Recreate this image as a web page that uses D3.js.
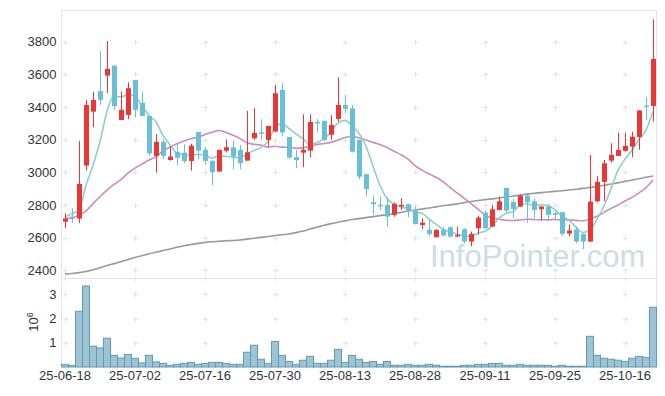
<!DOCTYPE html>
<html>
<head>
<meta charset="utf-8">
<script src="https://cdn.jsdelivr.net/npm/d3@7"></script>
<style>
  body { margin: 0; background: #fff; }
  svg { display: block; font-family: "Liberation Sans", Arial, sans-serif; }
</style>
</head>
<body>
<svg id="chart"></svg>
<script>
// trading days (category axis)
const dates = [
  "25-06-18","25-06-19","25-06-20","25-06-23","25-06-24","25-06-25","25-06-26","25-06-27","25-06-30",
  "25-07-01","25-07-02","25-07-03","25-07-04","25-07-07","25-07-08","25-07-09","25-07-10","25-07-11",
  "25-07-14","25-07-15","25-07-16","25-07-17","25-07-18","25-07-21","25-07-22","25-07-23","25-07-24",
  "25-07-25","25-07-28","25-07-29","25-07-30","25-07-31","25-08-01","25-08-04","25-08-05","25-08-06",
  "25-08-07","25-08-08","25-08-11","25-08-12","25-08-13","25-08-14","25-08-18","25-08-19","25-08-20",
  "25-08-21","25-08-22","25-08-25","25-08-26","25-08-27","25-08-28","25-08-29","25-09-01","25-09-02",
  "25-09-03","25-09-04","25-09-05","25-09-08","25-09-09","25-09-10","25-09-11","25-09-12","25-09-15",
  "25-09-16","25-09-17","25-09-18","25-09-19","25-09-22","25-09-23","25-09-24","25-09-25","25-09-26",
  "25-09-29","25-09-30","25-10-01","25-10-02","25-10-10","25-10-13","25-10-14","25-10-15","25-10-16",
  "25-10-17","25-10-20","25-10-21","25-10-22"
];

const open = [2697,2728,2716,3041,3371,3498,3592,3653,3320,3351,3565,3426,3345,3100,3186,3075,3124,3120,3069,3247,
  3137,3069,3004,3132,3153,3137,3071,3208,3245,3198,3249,3504,3216,3092,3120,3132,3308,3314,3229,3327,
  3412,3392,3198,2988,2816,2800,2800,2739,2795,2804,2765,2677,2647,2602,2647,2663,2606,2651,2575,2657,
  2753,2667,2769,2904,2818,2790,2857,2822,2773,2790,2749,2755,2624,2649,2622,2575,2822,2941,3071,3100,
  3131,3157,3216,3408,3406];
const high = [2749,2780,3192,3441,3492,3743,3804,3655,3494,3551,3565,3494,3345,3233,3202,3160,3171,3171,3175,3247,
  3157,3075,3137,3202,3192,3167,3376,3392,3325,3284,3535,3545,3216,3137,3355,3355,3325,3318,3349,3582,
  3474,3412,3200,2990,2857,2851,2845,2814,2841,2806,2790,2718,2712,2650,2663,2667,2667,2657,2636,2732,
  2769,2800,2851,2906,2835,2865,2871,2838,2792,2805,2759,2757,2680,2667,2626,3106,2977,3075,3178,3243,
  3243,3249,3382,3460,3937];
const low = [2657,2691,2688,3010,3276,3412,3484,3382,3320,3325,3337,3345,3100,2998,3080,3071,3043,3055,3010,3080,
  3045,2922,3004,3120,3018,3018,3071,3198,3198,3157,3249,3222,3080,3025,3031,3092,3243,3190,3198,3310,
  3361,3120,2957,2851,2739,2765,2667,2728,2769,2724,2680,2651,2606,2600,2606,2600,2604,2565,2545,2616,
  2651,2665,2765,2753,2720,2788,2691,2718,2705,2700,2712,2610,2608,2565,2528,2575,2818,2822,3059,3098,
  3126,3092,3137,3320,3310];
const close = [2716,2718,2928,3412,3443,3443,3633,3406,3382,3515,3382,3345,3116,3186,3100,3096,3088,3069,3163,3132,
  3069,3000,3137,3153,3096,3055,3122,3241,3241,3284,3484,3243,3090,3075,3137,3308,3300,3198,3290,3412,
  3388,3126,2973,2896,2804,2796,2728,2806,2800,2765,2683,2691,2622,2647,2612,2606,2616,2575,2622,2722,
  2657,2773,2822,2765,2775,2857,2816,2769,2790,2739,2739,2622,2643,2575,2575,2820,2941,3055,3106,3137,
  3161,3218,3378,3402,3694];

// volume in millions of shares
const volume = [0.11,0.07,2.30,3.35,0.86,0.79,1.19,0.48,0.37,0.52,0.36,0.17,0.48,0.21,0.15,0.07,0.11,0.15,0.19,0.11,
  0.15,0.19,0.19,0.15,0.11,0.11,0.61,0.90,0.32,0.15,1.06,0.48,0.23,0.11,0.28,0.44,0.15,0.15,0.28,0.73,
  0.19,0.48,0.32,0.19,0.23,0.11,0.23,0.07,0.07,0.11,0.07,0.07,0.11,0.07,0.03,0.03,0.03,0.07,0.07,0.11,
  0.11,0.15,0.15,0.07,0.07,0.11,0.07,0.07,0.07,0.07,0.03,0.07,0.03,0.03,0.03,1.27,0.48,0.36,0.32,0.28,
  0.23,0.36,0.44,0.40,2.47];

// moving averages
const ma5 = [2728,2745,2768,2920,3043,3189,3372,3467,3461,3476,3464,3406,3348,3309,3226,3169,3117,3108,3103,3110,
  3104,3087,3100,3098,3091,3088,3113,3133,3151,3189,3274,3299,3268,3235,3206,3171,3182,3204,3247,3302,
  3318,3283,3238,3159,3037,2919,2839,2806,2787,2779,2756,2749,2712,2682,2651,2636,2621,2611,2606,2628,
  2638,2670,2719,2748,2758,2798,2807,2796,2801,2794,2771,2732,2707,2664,2631,2647,2711,2793,2899,3012,
  3080,3135,3200,3259,3371];
const ma20 = [2718,2718,2740,2762,2808,2850,2890,2925,2955,2995,3025,3050,3075,3096,3130,3155,3175,3192,3205,3214,
  3231,3245,3256,3243,3226,3206,3181,3172,3165,3154,3159,3154,3153,3147,3149,3159,3170,3176,3183,3197,
  3213,3219,3211,3198,3183,3170,3151,3129,3107,3081,3041,3013,2990,2969,2942,2907,2873,2842,2808,2774,
  2737,2720,2712,2706,2704,2707,2712,2710,2709,2708,2711,2707,2708,2705,2703,2714,2730,2754,2778,2799,
  2824,2846,2874,2906,2952];
const ma60 = [2377,2380,2385,2392,2402,2415,2428,2440,2452,2465,2478,2488,2500,2510,2520,2530,2540,2550,2557,2564,
  2570,2574,2577,2580,2582,2585,2590,2596,2601,2606,2612,2617,2622,2630,2640,2652,2663,2675,2685,2694,
  2702,2710,2716,2722,2728,2734,2740,2746,2754,2762,2769,2775,2781,2788,2795,2800,2806,2814,2821,2827,
  2832,2837,2842,2849,2854,2860,2866,2871,2875,2879,2883,2887,2891,2896,2901,2907,2913,2920,2928,2935,
  2944,2952,2960,2969,2977];

const priceTicks = [2400, 2600, 2800, 3000, 3200, 3400, 3600, 3800];
const volTicks = [1, 2, 3];
const dateTicks = dates.filter((d, i) => i % 10 === 0);

const W = 665, H = 396;
const plotLeft = 61.5, plotRight = 656.5, plotTop = 10, split = 278, plotBottom = 367;

const svg = d3.select('#chart').attr('width', W).attr('height', H);

const x = d3.scaleBand().domain(dates).range([plotLeft, plotRight]).padding(0);
const cx = d => x(d) + x.bandwidth() / 2;
const y = d3.scaleLinear().domain([2352, 3994]).range([split, plotTop]);
const yv = d3.scaleLinear().domain([0, 3.68]).range([plotBottom, split]);

// frame lines
const frame = svg.append('g').attr('stroke', '#e3e3e3').attr('fill', 'none');
frame.append('line').attr('x1', plotLeft).attr('x2', plotRight).attr('y1', plotTop + 0.5).attr('y2', plotTop + 0.5);
frame.append('line').attr('x1', plotLeft - 1).attr('x2', plotRight).attr('y1', split + 0.5).attr('y2', split + 0.5);
frame.append('line').attr('x1', plotLeft).attr('x2', plotLeft).attr('y1', plotTop).attr('y2', plotBottom);
frame.append('line').attr('x1', plotRight).attr('x2', plotRight).attr('y1', plotTop).attr('y2', plotBottom);

// little "+" grid marks
const gridYs = priceTicks.map(y).concat(volTicks.map(yv), [split]);
const crosses = [];
dateTicks.forEach(d => gridYs.forEach(gy => crosses.push([Math.round(cx(d)) + 0.5, Math.round(gy) + 0.5])));
svg.append('g').selectAll('path').data(crosses).join('path')
  .attr('d', p => `M${p[0] - 2.5},${p[1]}H${p[0] + 2.5}M${p[0]},${p[1] - 2.5}V${p[1] + 2.5}`)
  .attr('stroke', '#e2e2e2').attr('stroke-width', 1);

// watermark
svg.append('text').attr('x', 430).attr('y', 267)
  .attr('font-size', 31).attr('fill', '#cbdde7')
  .text('InfoPointer.com');

// axes
const fmt = d3.format('d');
const yAxis = svg.append('g').attr('transform', `translate(${plotLeft - 5},0)`)
  .call(d3.axisLeft(y).tickValues(priceTicks).tickFormat(fmt).tickSize(0).tickPadding(0));
const vAxis = svg.append('g').attr('transform', `translate(${plotLeft - 5},0)`)
  .call(d3.axisLeft(yv).tickValues(volTicks).tickFormat(fmt).tickSize(0).tickPadding(0));
const xAxis = svg.append('g').attr('transform', `translate(0,${plotBottom + 4})`)
  .call(d3.axisBottom(x).tickValues(dateTicks).tickSize(0).tickPadding(0));
[yAxis, vAxis, xAxis].forEach(g => {
  g.select('.domain').remove();
  g.selectAll('text').attr('font-size', 13).attr('fill', '#333').attr('font-family', '"Liberation Sans", Arial, sans-serif');
});
xAxis.selectAll('text').attr('dy', '0.71em');

// 10^6 unit label
const unit = svg.append('text').attr('transform', 'translate(38,322) rotate(-90)')
  .attr('text-anchor', 'middle').attr('font-size', 13).attr('fill', '#333');
unit.append('tspan').text('10');
unit.append('tspan').attr('dy', -5).attr('font-size', 9).text('6');

// volume bars
svg.append('g').selectAll('rect').data(volume).join('rect')
  .attr('x', (v, i) => x(dates[i]))
  .attr('width', x.bandwidth())
  .attr('y', v => yv(v))
  .attr('height', v => plotBottom - yv(v))
  .attr('fill', '#9ec4d4')
  .attr('stroke', '#5f9bb4')
  .attr('stroke-width', 1);

// moving averages
const line = arr => d3.line().x((v, i) => cx(dates[i])).y(v => y(v)).curve(d3.curveMonotoneX)(arr);
svg.append('path').attr('d', line(ma60)).attr('fill', 'none').attr('stroke', '#9a9a9a').attr('stroke-width', 1.6);
svg.append('path').attr('d', line(ma20)).attr('fill', 'none').attr('stroke', '#cc8bc3').attr('stroke-width', 1.6);
svg.append('path').attr('d', line(ma5)).attr('fill', 'none').attr('stroke', '#8fcfc5').attr('stroke-width', 1.6);

// candles
const up = '#ec3636', down = '#68bfd8';
const candles = svg.append('g').selectAll('g').data(dates).join('g');
candles.append('line')
  .attr('x1', d => Math.round(cx(d)) + 0.5).attr('x2', d => Math.round(cx(d)) + 0.5)
  .attr('y1', (d, i) => y(high[i])).attr('y2', (d, i) => y(low[i]))
  .attr('stroke', (d, i) => close[i] >= open[i] ? up : down).attr('stroke-width', 1);
candles.append('rect')
  .attr('x', d => Math.round(cx(d)) - 2)
  .attr('width', 5)
  .attr('y', (d, i) => y(Math.max(open[i], close[i])))
  .attr('height', (d, i) => Math.max(1.5, Math.abs(y(open[i]) - y(close[i]))))
  .attr('fill', (d, i) => close[i] >= open[i] ? up : down);
</script>
</body>
</html>
